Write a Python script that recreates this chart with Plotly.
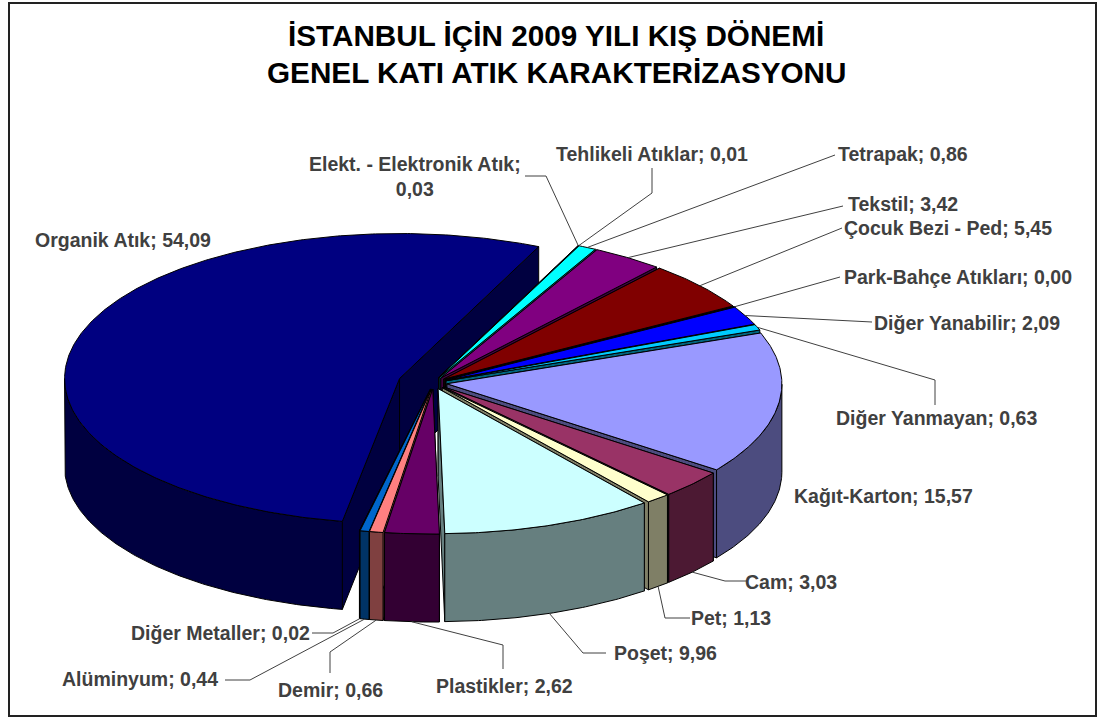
import numpy as np
import plotly.graph_objects as go

# Slices in chart order, clockwise from the Kagit-Karton slice
categories = ['Kağıt-Karton', 'Cam', 'Pet', 'Poşet', 'Plastikler', 'Demir', 'Alüminyum',
              'Diğer Metaller', 'Organik Atık', 'Elekt. - Elektronik Atık', 'Tehlikeli Atıklar',
              'Tetrapak', 'Tekstil', 'Çocuk Bezi - Ped', 'Park-Bahçe Atıkları',
              'Diğer Yanabilir', 'Diğer Yanmayan']
values = [15.57, 3.03, 1.13, 9.96, 2.62, 0.66, 0.44, 0.02, 54.09, 0.03, 0.01,
          0.86, 3.42, 5.45, 0.00, 2.09, 0.63]
value_labels = ['15,57', '3,03', '1,13', '9,96', '2,62', '0,66', '0,44', '0,02', '54,09', '0,03',
                '0,01', '0,86', '3,42', '5,45', '0,00', '2,09', '0,63']
title_lines = ['İSTANBUL İÇİN 2009 YILI KIŞ DÖNEMİ', 'GENEL KATI ATIK KARAKTERİZASYONU']

# Excel default series colours, sides of the pie are the same colour at half brightness
colors = ['#9999FF', '#993366', '#FFFFCC', '#CCFFFF', '#660066', '#FF8080', '#0066CC', '#CCCCFF',
          '#000080', '#FF00FF', '#FFFF00', '#00FFFF', '#800080', '#800000', '#008080', '#0000FF',
          '#00CCFF']

# pie geometry, in page pixels
CX, CY = 433, 383
RX, RY = 335, 145
DEPTH = 88
START_ANGLE = 69.5
EXPLODE = 14
EXPLODE_BIG = 35
FRONT_PULL = 2.5  # degrees, perspective of the original pulls the front slices to the left

# label centre and the bend(s) of the leader line, walking from the label to the slice
label_pos = {
    'Kağıt-Karton': (883, 496), 'Cam': (791, 582), 'Pet': (731, 618), 'Poşet': (665, 653),
    'Plastikler': (504, 686), 'Demir': (330, 690), 'Alüminyum': (140, 679),
    'Diğer Metaller': (220, 633), 'Organik Atık': (123, 240),
    'Elekt. - Elektronik Atık': (415, 176), 'Tehlikeli Atıklar': (652, 154),
    'Tetrapak': (903, 154), 'Tekstil': (903, 204), 'Çocuk Bezi - Ped': (948, 228),
    'Park-Bahçe Atıkları': (958, 277), 'Diğer Yanabilir': (967, 323),
    'Diğer Yanmayan': (936, 418),
}
leaders = {
    'Cam': [(748, 581), (725, 581)], 'Pet': [(690, 618), (665, 618)],
    'Poşet': [(606, 653), (583, 653)], 'Plastikler': [(503, 669), (503, 645)],
    'Demir': [(330, 673), (330, 652)], 'Alüminyum': [(225, 680), (250, 680)],
    'Diğer Metaller': [(312, 633), (333, 633)],
    'Elekt. - Elektronik Atık': [(525, 176), (546, 176)],
    'Tehlikeli Atıklar': [(652, 168), (652, 193)], 'Tetrapak': [(835, 155)],
    'Tekstil': [(843, 206)], 'Çocuk Bezi - Ped': [(842, 228)],
    'Park-Bahçe Atıkları': [(840, 277)], 'Diğer Yanabilir': [(872, 322)],
    'Diğer Yanmayan': [(935, 405), (935, 380)],
}


def half(color):
    r, g, b = [int(color[i:i + 2], 16) // 2 for i in (1, 3, 5)]
    return f'rgb({r},{g},{b})'


def pull(theta):
    return theta + FRONT_PULL * np.clip(-np.cos(np.radians(theta)), 0, 1) ** 2


def rim(theta, dx, dy):
    t = np.radians(theta)
    return CX + dx + RX * np.sin(t), CY + dy - RY * np.cos(t)


def add_face(fig, xs, ys, color):
    fig.add_trace(go.Scatter(x=list(xs), y=list(ys), mode='lines', fill='toself', fillcolor=color,
                             line=dict(color='black', width=1), hoverinfo='skip',
                             showlegend=False))


# turn the values into slice angles
sweeps = np.array(values) / sum(values) * 360
starts = START_ANGLE + np.concatenate([[0], np.cumsum(sweeps)[:-1]])
ends = starts + sweeps
mids = (starts + ends) / 2

fig = go.Figure()
anchors = {}
big = categories.index('Organik Atık')
order = [big] + [i for i in np.argsort(-np.cos(np.radians(mids))) if i != big]  # back slices first

for i in order:
    name, color = categories[i], colors[i]
    shift = EXPLODE_BIG if i == big else EXPLODE
    warp = (lambda th: th) if i == big else pull
    dx = shift * np.sin(np.radians(mids[i]))
    dy = -shift * RY / RX * np.cos(np.radians(mids[i]))
    ax, ay = CX + dx, CY + dy
    side = half(color)

    # radial walls
    for edge in (starts[i], ends[i]):
        ex, ey = rim(warp(edge), dx, dy)
        add_face(fig, [ax, ex, ex, ax, ax], [ay, ey, ey + DEPTH, ay + DEPTH, ay], side)

    # outer wall, only the part facing the viewer
    thetas = warp(np.linspace(starts[i], ends[i], max(int(sweeps[i]) * 2, 2)))
    front = thetas[np.cos(np.radians(thetas)) <= 0]
    if len(front) > 1:
        fx, fy = rim(front, dx, dy)
        add_face(fig, np.r_[fx, fx[::-1], fx[0]], np.r_[fy, fy[::-1] + DEPTH, fy[0]], side)

    # top face
    tx, ty = rim(thetas, dx, dy)
    add_face(fig, np.r_[ax, tx, ax], np.r_[ay, ty, ay], color)

    # where the leader line meets the slice
    lx, ly = rim(warp(mids[i]), dx, dy)
    if np.cos(np.radians(mids[i])) < 0:
        ly += DEPTH
    anchors[name] = (lx, ly)

# leader lines
for name, bends in leaders.items():
    pts = bends + [anchors[name]]
    fig.add_trace(go.Scatter(x=[p[0] for p in pts], y=[p[1] for p in pts], mode='lines',
                             line=dict(color='#404040', width=1), hoverinfo='skip',
                             showlegend=False))

# data labels
for name, val in zip(categories, value_labels):
    text = f'<b>{name}; {val}</b>'
    if name.startswith('Elekt'):
        text = f'<b>{name};<br>{val}</b>'
    fig.add_annotation(x=label_pos[name][0], y=label_pos[name][1], text=text, showarrow=False,
                       xanchor='center', yanchor='middle',
                       font=dict(family='Liberation Sans', size=19.5, color='#404040'))

for line, ypos in zip(title_lines, (35, 72)):
    fig.add_annotation(x=556, y=ypos, text=f'<b>{line}</b>', showarrow=False,
                       font=dict(family='Liberation Sans', size=29.7, color='black'))

fig.update_layout(
    width=1099,
    height=720,
    margin=dict(l=0, r=0, t=0, b=0),
    paper_bgcolor='white',
    plot_bgcolor='white',
    showlegend=False,
    xaxis=dict(range=[0, 1099], visible=False, fixedrange=True),
    yaxis=dict(range=[720, 0], visible=False, fixedrange=True),
    shapes=[dict(type='rect', xref='x', yref='y', x0=9, y0=3, x1=1096, y1=716,
                 line=dict(color='#222222', width=2))],
)

fig.write_html('out.html', config=dict(displayModeBar=False),
               post_script="document.body.style.margin='0';")
